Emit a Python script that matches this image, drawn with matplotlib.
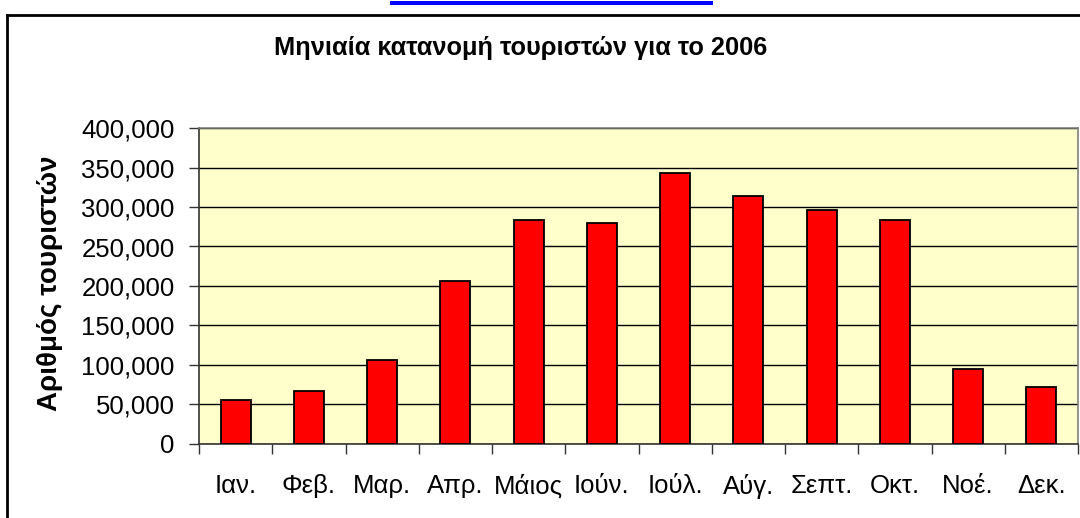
import matplotlib
matplotlib.use("Agg")
import matplotlib.pyplot as plt
from matplotlib.ticker import FuncFormatter, MultipleLocator, FixedLocator
from matplotlib.lines import Line2D
from matplotlib.patches import Rectangle

plt.rcParams['font.family'] = ['Liberation Sans', 'DejaVu Sans']

# Monthly tourist arrivals, 2006
months = ['Ιαν.', 'Φεβ.', 'Μαρ.', 'Απρ.', 'Μάιος', 'Ιούν.',
          'Ιούλ.', 'Αύγ.', 'Σεπτ.', 'Οκτ.', 'Νοέ.', 'Δεκ.']
tourists = [55000, 67000, 106000, 206000, 284000, 280000,
            343000, 314000, 296000, 283000, 95000, 72000]

title = 'Μηνιαία κατανομή τουριστών για το 2006'
ylabel = 'Αριθμός τουριστών'

W, H = 1080, 518
fig = plt.figure(figsize=(W / 100, H / 100), dpi=100)
fig.patch.set_facecolor('white')

# plot area in pixel coordinates
left, right, top, bottom = 199, 1078, 128.3, 443.5
ax = fig.add_axes([left / W, (H - bottom) / H, (right - left) / W, (bottom - top) / H])
ax.set_facecolor('#FFFFCC')

x = list(range(len(months)))
ax.bar(x, tourists, width=0.41, color='#FF0000', edgecolor='black',
       linewidth=1.3, zorder=3)

ax.set_xlim(-0.5, len(months) - 0.5)
ax.set_ylim(0, 400000)

ax.yaxis.set_major_locator(MultipleLocator(50000))
ax.yaxis.set_major_formatter(FuncFormatter(lambda v, p: f'{int(v):,}'))
ax.grid(axis='y', color='black', linewidth=1.0, zorder=1)
ax.set_axisbelow(True)

# category boundaries carry the tick marks, labels sit at the centres
ax.xaxis.set_major_locator(FixedLocator([i - 0.5 for i in range(len(months) + 1)]))
ax.xaxis.set_major_formatter(FuncFormatter(lambda v, p: ''))
ax.xaxis.set_minor_locator(FixedLocator(x))
ax.set_xticklabels(months, minor=True)
ax.tick_params(axis='x', which='major', direction='out', length=7, width=1, color='#333333')
ax.tick_params(axis='x', which='minor', length=0, pad=22, labelsize=18.5)
ax.tick_params(axis='y', direction='out', length=7.5, width=1, color='#333333',
               pad=10, labelsize=18.5)

for side in ('top', 'right'):
    ax.spines[side].set_color('#808080')
    ax.spines[side].set_linewidth(1.2)
for side in ('left', 'bottom'):
    ax.spines[side].set_color('#333333')
    ax.spines[side].set_linewidth(1.2)

fig.text(521 / W, 1 - 48 / H, title, ha='center', va='center',
         fontsize=18.3, fontweight='bold')
fig.text(50 / W, 1 - 283 / H, ylabel, ha='center', va='center',
         rotation=90, fontsize=20, fontweight='bold')

# outer chart border (left and top edges)
fig.add_artist(Line2D([7 / W, 7 / W], [0, 1 - 15 / H], transform=fig.transFigure,
                      color='black', linewidth=2.0))
fig.add_artist(Line2D([7 / W, 1], [1 - 15 / H, 1 - 15 / H], transform=fig.transFigure,
                      color='black', linewidth=2.0))

# underline of the hyperlink above the chart
fig.add_artist(Rectangle((390 / W, 1 - 4.5 / H), (713 - 390) / W, 3.5 / H,
                         transform=fig.transFigure, color='#0000FF', linewidth=0))

fig.savefig('out.png', dpi=100, facecolor='white')
